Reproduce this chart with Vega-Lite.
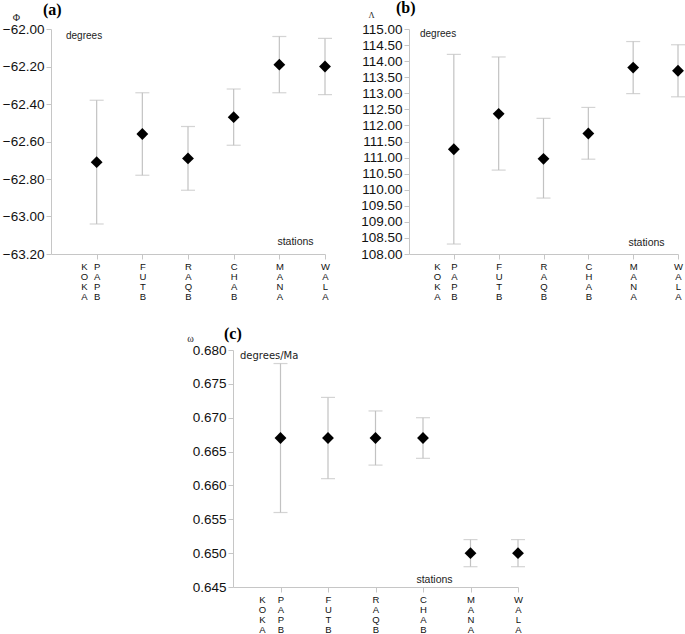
{
  "$schema": "https://vega.github.io/schema/vega-lite/v6.json",
  "background": "white",
  "padding": {"left": 2, "top": 0, "right": 2, "bottom": 0},
  "spacing": 25,
  "config": {
    "view": {"stroke": null},
    "font": "Liberation Sans",
    "axis": {
      "grid": false,
      "domainColor": "#c6c6c6",
      "tickColor": "#c6c6c6",
      "labelColor": "#111111",
      "labelFont": "Liberation Sans",
      "labelFontSize": 13.5,
      "tickSize": 5,
      "labelPadding": 2,
      "titleFontWeight": "normal",
      "titleColor": "#222222"
    },
    "axisY": {"labelOverlap": false, "tickCount": 30},
    "title": {"font": "Liberation Serif", "fontWeight": "bold", "fontSize": 16, "anchor": "start", "color": "#000000", "baseline": "bottom", "frame": "group"}
  },
  "datasets": {
    "phi": [
      {"station": "PAPB", "value": -62.71, "lower": -63.04, "upper": -62.38},
      {"station": "FUTB", "value": -62.56, "lower": -62.78, "upper": -62.34},
      {"station": "RAQB", "value": -62.69, "lower": -62.86, "upper": -62.52},
      {"station": "CHAB", "value": -62.47, "lower": -62.62, "upper": -62.32},
      {"station": "MANA", "value": -62.19, "lower": -62.34, "upper": -62.04},
      {"station": "WALA", "value": -62.20, "lower": -62.35, "upper": -62.05}
    ],
    "lambda": [
      {"station": "PAPB", "value": 111.26, "lower": 108.31, "upper": 114.21},
      {"station": "FUTB", "value": 112.36, "lower": 110.61, "upper": 114.13},
      {"station": "RAQB", "value": 110.96, "lower": 109.74, "upper": 112.22},
      {"station": "CHAB", "value": 111.75, "lower": 110.95, "upper": 112.56},
      {"station": "MANA", "value": 113.80, "lower": 112.99, "upper": 114.61},
      {"station": "WALA", "value": 113.70, "lower": 112.89, "upper": 114.51}
    ],
    "omega": [
      {"station": "PAPB", "value": 0.667, "lower": 0.656, "upper": 0.678},
      {"station": "FUTB", "value": 0.667, "lower": 0.661, "upper": 0.673},
      {"station": "RAQB", "value": 0.667, "lower": 0.663, "upper": 0.671},
      {"station": "CHAB", "value": 0.667, "lower": 0.664, "upper": 0.670},
      {"station": "MANA", "value": 0.650, "lower": 0.648, "upper": 0.652},
      {"station": "WALA", "value": 0.650, "lower": 0.648, "upper": 0.652}
    ]
  },
  "vconcat": [
    {
      "hconcat": [
        {
          "width": 274,
          "height": 225,
          "title": {"text": "(a)", "dx": -8, "offset": -6},
          "layer": [
            {
              "data": {"name": "phi"},
              "mark": {"type": "rule", "color": "#c2c2c2", "strokeWidth": 1.2},
              "encoding": {
                "x": {"field": "station", "type": "nominal",
                  "scale": {"type": "point", "domain": ["KOKA", "PAPB", "FUTB", "RAQB", "CHAB", "MANA", "WALA"], "padding": 0},
                  "axis": {
                    "title": "stations", "titleX": 244, "titleY": -13, "titleAlign": "center", "titleBaseline": "middle", "titleFontSize": 10.5,
                    "labelAngle": 0, "labelExpr": "split(datum.value, '')", "labelFontSize": 9.5, "labelLineHeight": 10, "labelBaseline": "top", "labelAlign": "center",
                    "labelOffset": {"condition": {"test": "datum.value === 'KOKA'", "value": 33}, "value": 0},
                    "tickOpacity": {"condition": {"test": "datum.value === 'KOKA'", "value": 0}, "value": 1},
                    "labelOverlap": false, "labelFlush": false
                  }
                },
                "y": {"field": "lower", "type": "quantitative",
                  "scale": {"domain": [-63.2, -62.0], "nice": false, "zero": false},
                  "axis": {"values": [-63.2, -63.0, -62.8, -62.6, -62.4, -62.2, -62.0], "tickCount": 30, "format": ".2f", "labelOverlap": false,
                    "title": "Φ", "titleAngle": 0, "titleX": -35, "titleY": -12, "titleAlign": "center", "titleBaseline": "middle", "titleFont": "Liberation Serif", "titleFontSize": 10}
                },
                "y2": {"field": "upper"}
              }
            },
            {
              "data": {"name": "phi"},
              "mark": {"type": "tick", "color": "#c2c2c2", "size": 14, "thickness": 1.2},
              "encoding": {"x": {"field": "station", "type": "nominal"}, "y": {"field": "upper", "type": "quantitative"}}
            },
            {
              "data": {"name": "phi"},
              "mark": {"type": "tick", "color": "#c2c2c2", "size": 14, "thickness": 1.2},
              "encoding": {"x": {"field": "station", "type": "nominal"}, "y": {"field": "lower", "type": "quantitative"}}
            },
            {
              "data": {"name": "phi"},
              "mark": {"type": "point", "shape": "diamond", "filled": true, "color": "#000000", "opacity": 1, "size": 140},
              "encoding": {"x": {"field": "station", "type": "nominal"}, "y": {"field": "value", "type": "quantitative"}}
            },
            {
              "data": {"values": [{"label": "degrees"}]},
              "mark": {"type": "text", "align": "left", "baseline": "middle", "fontSize": 10, "dx": 15, "dy": 7, "color": "#222222"},
              "encoding": {"x": {"datum": "KOKA", "type": "nominal"}, "y": {"datum": -62.0, "type": "quantitative"}, "text": {"field": "label"}}
            }
          ]
        },
        {
          "width": 269,
          "height": 225,
          "title": {"text": "(b)", "dx": -13, "offset": -6},
          "layer": [
            {
              "data": {"name": "lambda"},
              "mark": {"type": "rule", "color": "#c2c2c2", "strokeWidth": 1.2},
              "encoding": {
                "x": {"field": "station", "type": "nominal",
                  "scale": {"type": "point", "domain": ["KOKA", "PAPB", "FUTB", "RAQB", "CHAB", "MANA", "WALA"], "padding": 0},
                  "axis": {
                    "title": "stations", "titleX": 237, "titleY": -12, "titleAlign": "center", "titleBaseline": "middle", "titleFontSize": 10.5,
                    "labelAngle": 0, "labelExpr": "split(datum.value, '')", "labelFontSize": 9.5, "labelLineHeight": 10, "labelBaseline": "top", "labelAlign": "center",
                    "labelOffset": {"condition": {"test": "datum.value === 'KOKA'", "value": 28}, "value": 0},
                    "tickOpacity": {"condition": {"test": "datum.value === 'KOKA'", "value": 0}, "value": 1},
                    "labelOverlap": false, "labelFlush": false
                  }
                },
                "y": {"field": "lower", "type": "quantitative",
                  "scale": {"domain": [108, 115], "nice": false, "zero": false},
                  "axis": {"values": [108, 108.5, 109, 109.5, 110, 110.5, 111, 111.5, 112, 112.5, 113, 113.5, 114, 114.5, 115], "tickCount": 30, "format": ".2f", "labelOverlap": false,
                    "title": "Λ", "titleAngle": 0, "titleX": -38, "titleY": -15, "titleAlign": "center", "titleBaseline": "middle", "titleFont": "Liberation Serif", "titleFontSize": 8.5}
                },
                "y2": {"field": "upper"}
              }
            },
            {
              "data": {"name": "lambda"},
              "mark": {"type": "tick", "color": "#c2c2c2", "size": 14, "thickness": 1.2},
              "encoding": {"x": {"field": "station", "type": "nominal"}, "y": {"field": "upper", "type": "quantitative"}}
            },
            {
              "data": {"name": "lambda"},
              "mark": {"type": "tick", "color": "#c2c2c2", "size": 14, "thickness": 1.2},
              "encoding": {"x": {"field": "station", "type": "nominal"}, "y": {"field": "lower", "type": "quantitative"}}
            },
            {
              "data": {"name": "lambda"},
              "mark": {"type": "point", "shape": "diamond", "filled": true, "color": "#000000", "opacity": 1, "size": 140},
              "encoding": {"x": {"field": "station", "type": "nominal"}, "y": {"field": "value", "type": "quantitative"}}
            },
            {
              "data": {"values": [{"label": "degrees"}]},
              "mark": {"type": "text", "align": "left", "baseline": "middle", "fontSize": 10, "dx": 11, "dy": 5, "color": "#222222"},
              "encoding": {"x": {"datum": "KOKA", "type": "nominal"}, "y": {"datum": 115, "type": "quantitative"}, "text": {"field": "label"}}
            }
          ]
        }
      ],
      "spacing": 84,
      "bounds": "flush"
    },
    {
      "hconcat": [
        {
          "width": 150,
          "height": 10,
          "data": {"values": []},
          "mark": "point"
        },
        {
          "width": 285,
          "height": 237,
          "title": {"text": "(c)", "dx": -9, "offset": -9},
          "layer": [
            {
              "data": {"name": "omega"},
              "mark": {"type": "rule", "color": "#c2c2c2", "strokeWidth": 1.2},
              "encoding": {
                "x": {"field": "station", "type": "nominal",
                  "scale": {"type": "point", "domain": ["KOKA", "PAPB", "FUTB", "RAQB", "CHAB", "MANA", "WALA"], "padding": 0},
                  "axis": {
                    "title": "stations", "titleX": 201, "titleY": -8, "titleAlign": "center", "titleBaseline": "middle", "titleFontSize": 10.5,
                    "labelAngle": 0, "labelExpr": "split(datum.value, '')", "labelFontSize": 9.5, "labelLineHeight": 10, "labelBaseline": "top", "labelAlign": "center",
                    "labelOffset": {"condition": {"test": "datum.value === 'KOKA'", "value": 29}, "value": 0},
                    "tickOpacity": {"condition": {"test": "datum.value === 'KOKA'", "value": 0}, "value": 1},
                    "labelOverlap": false, "labelFlush": false
                  }
                },
                "y": {"field": "lower", "type": "quantitative",
                  "scale": {"domain": [0.645, 0.68], "nice": false, "zero": false},
                  "axis": {"values": [0.645, 0.65, 0.655, 0.66, 0.665, 0.67, 0.675, 0.68], "tickCount": 30, "format": ".3f", "labelOverlap": false,
                    "title": "ω", "titleAngle": 0, "titleX": -43, "titleY": -12, "titleAlign": "center", "titleBaseline": "middle", "titleFont": "Liberation Serif", "titleFontSize": 10}
                },
                "y2": {"field": "upper"}
              }
            },
            {
              "data": {"name": "omega"},
              "mark": {"type": "tick", "color": "#c2c2c2", "size": 14, "thickness": 1.2},
              "encoding": {"x": {"field": "station", "type": "nominal"}, "y": {"field": "upper", "type": "quantitative"}}
            },
            {
              "data": {"name": "omega"},
              "mark": {"type": "tick", "color": "#c2c2c2", "size": 14, "thickness": 1.2},
              "encoding": {"x": {"field": "station", "type": "nominal"}, "y": {"field": "lower", "type": "quantitative"}}
            },
            {
              "data": {"name": "omega"},
              "mark": {"type": "point", "shape": "diamond", "filled": true, "color": "#000000", "opacity": 1, "size": 140},
              "encoding": {"x": {"field": "station", "type": "nominal"}, "y": {"field": "value", "type": "quantitative"}}
            },
            {
              "data": {"values": [{"label": "degrees/Ma"}]},
              "mark": {"type": "text", "align": "left", "baseline": "middle", "fontSize": 10, "dx": 7, "dy": 6, "color": "#222222", "font": "DejaVu Sans"},
              "encoding": {"x": {"datum": "KOKA", "type": "nominal"}, "y": {"datum": 0.68, "type": "quantitative"}, "text": {"field": "label"}}
            }
          ]
        }
      ],
      "spacing": 32,
      "bounds": "flush"
    }
  ]
}
